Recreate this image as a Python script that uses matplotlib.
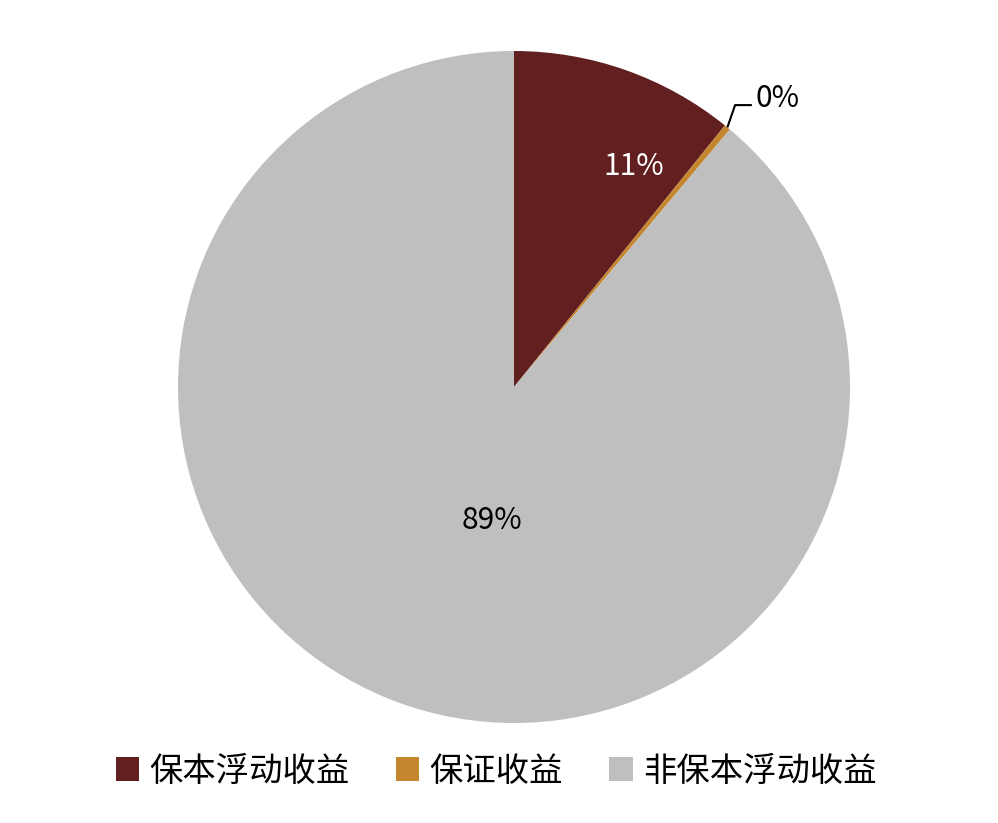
import numpy as np
import matplotlib.pyplot as plt

plt.rcParams['font.family'] = ['Noto Sans CJK SC', 'DejaVu Sans']

categories = ["保本浮动收益", "保证收益", "非保本浮动收益"]
shares = [10.8, 0.3, 88.9]
pct_labels = ["11%", "0%", "89%"]
colors = ["#621F20", "#C4862E", "#BFBFBF"]

fig = plt.figure(figsize=(9.98, 8.23), dpi=100)
W, H = 998, 823
cx, cy, r = 514, 387, 336
ax = fig.add_axes([(cx - r) / W, (H - cy - r) / H, 2 * r / W, 2 * r / H])

wedges, _ = ax.pie(shares, colors=colors, startangle=90, counterclock=False,
                   radius=1.0, wedgeprops=dict(linewidth=0))
ax.set_xlim(-1, 1)
ax.set_ylim(-1, 1)
ax.set_aspect("equal")
ax.axis("off")

# in-slice labels
ax.text(0.355, 0.655, pct_labels[0], color="white", fontsize=21.5,
        ha="center", va="center")
ax.text(-0.065, -0.396, pct_labels[2], color="black", fontsize=21.5,
        ha="center", va="center")

# leader line for the tiny slice
w = wedges[1]
mid = np.deg2rad((w.theta1 + w.theta2) / 2)
x0, y0 = np.cos(mid), np.sin(mid)
ax.plot([x0, 0.658, 0.708], [y0, 0.839, 0.839], color="black", lw=1.5,
        solid_capstyle="butt", clip_on=False)
ax.text(0.72, 0.858, pct_labels[1], color="black", fontsize=21.5,
        ha="left", va="center")

fig.legend(wedges, categories, loc="center", bbox_to_anchor=(496 / W, 1 - 771 / H),
           ncol=3, frameon=False, fontsize=24, handlelength=0.7,
           handleheight=0.7, handletextpad=0.3, columnspacing=1.4)

fig.savefig("out.png", dpi=100)
